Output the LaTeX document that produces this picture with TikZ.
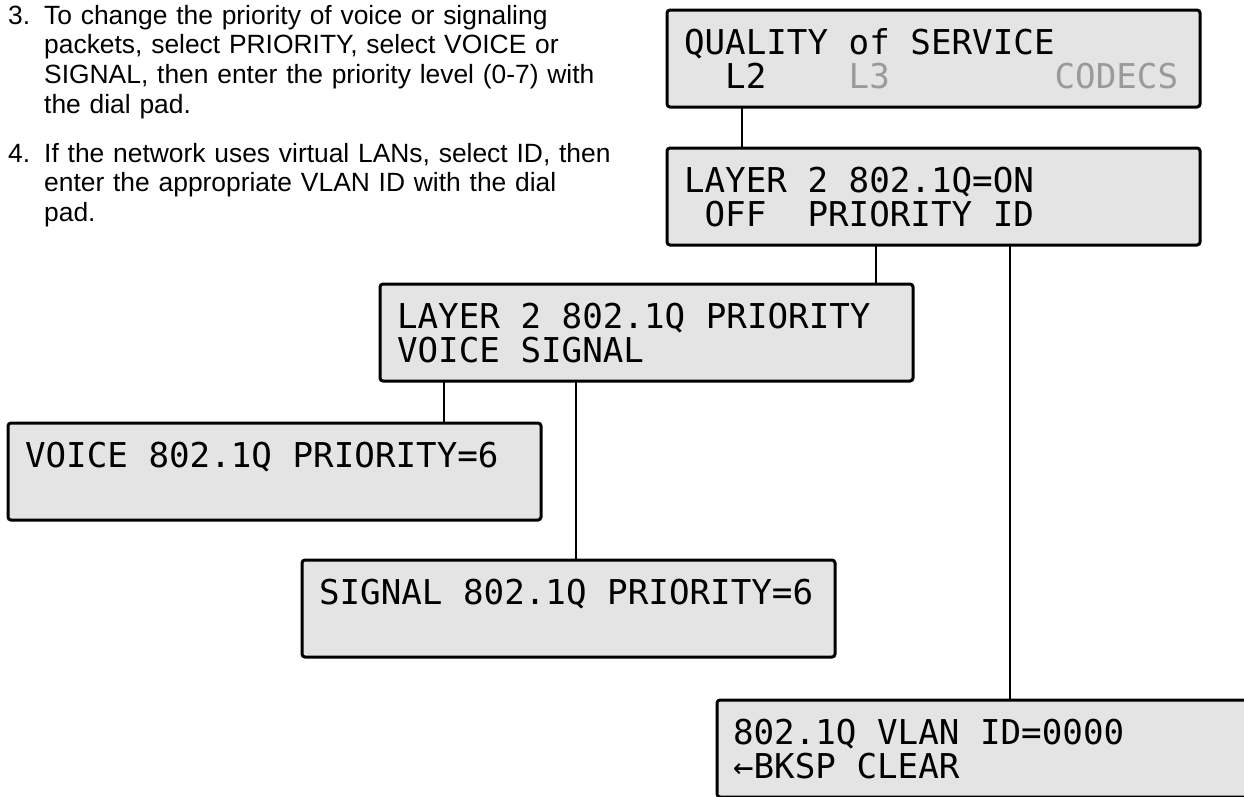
\documentclass[tikz,border=0pt]{standalone}
\usepackage{fontspec}
\setmainfont{Liberation Sans}
\newfontfamily\lcdfont{DejaVu Sans Mono}
\definecolor{lcdbg}{HTML}{E4E4E4}
\definecolor{lcddim}{HTML}{9A9A9A}
% one blank character cell of the display font
\newcommand\blk{\phantom{0}}

\begin{document}
\begin{tikzpicture}[x=1pt,y=-1pt,
  lcd/.style={draw=black, line width=3pt, fill=lcdbg, rounded corners=3pt,
    anchor=north west, outer sep=0pt, inner xsep=17pt, inner ysep=0pt,
    text width=499pt, align=left, text height=44pt, text depth=53pt,
    font=\lcdfont\fontsize{34.2}{34}\selectfont},
  wire/.style={line width=2pt},
  body/.style={anchor=base west, inner sep=0pt, align=left,
    text width=640pt, font=\fontsize{26.4}{29.7}\selectfont}]

\useasboundingbox (0,0) rectangle (1244,796);

% instructions
\node[body, text width=30pt] (n3) at (8,24) {3.};
\node[body] (t3) at (44,24) {To change the priority of voice or signaling\\
packets, select PRIORITY, select VOICE or\\
SIGNAL, then enter the priority level (0-7) with\\
the dial pad.};
\node[body, text width=30pt] (n4) at (8,162) {4.};
\node[body] (t4) at (44,162) {If the network uses virtual LANs, select ID, then\\
enter the appropriate VLAN ID with the dial\\
pad.};

% display screens
\node[lcd] (b1) at (667,10) {QUALITY\blk of\blk SERVICE\\
\blk\blk L2\blk\blk\blk\blk\textcolor{lcddim}{L3}\blk\blk\blk\blk\blk\blk\blk\blk\textcolor{lcddim}{CODECS}};
\node[lcd] (b2) at (667,148) {LAYER\blk 2\blk 802.1Q=ON\\
\blk OFF\blk\blk PRIORITY\blk ID};
\node[lcd] (b3) at (380,284) {LAYER\blk 2\blk 802.1Q\blk PRIORITY\\
VOICE\blk SIGNAL};
\node[lcd] (b4) at (8,423) {VOICE\blk 802.1Q\blk PRIORITY=6};
\node[lcd] (b5) at (302,560) {SIGNAL\blk 802.1Q\blk PRIORITY=6};
\node[lcd, inner xsep=16pt, text width=501pt] (b6) at (717,700) {802.1Q\blk VLAN\blk ID=0000\\
←BKSP\blk CLEAR};

% menu links
\draw[wire] ([xshift=75pt]b1.south west) -- ([xshift=75pt]b2.north west);
\draw[wire] ([xshift=209pt]b2.south west) -- ([xshift=496pt]b3.north west);
\draw[wire] ([xshift=343pt]b2.south west) -- ([xshift=293pt]b6.north west);
\draw[wire] ([xshift=64pt]b3.south west) -- ([xshift=436pt]b4.north west);
\draw[wire] ([xshift=196pt]b3.south west) -- ([xshift=274pt]b5.north west);
\end{tikzpicture}
\end{document}
